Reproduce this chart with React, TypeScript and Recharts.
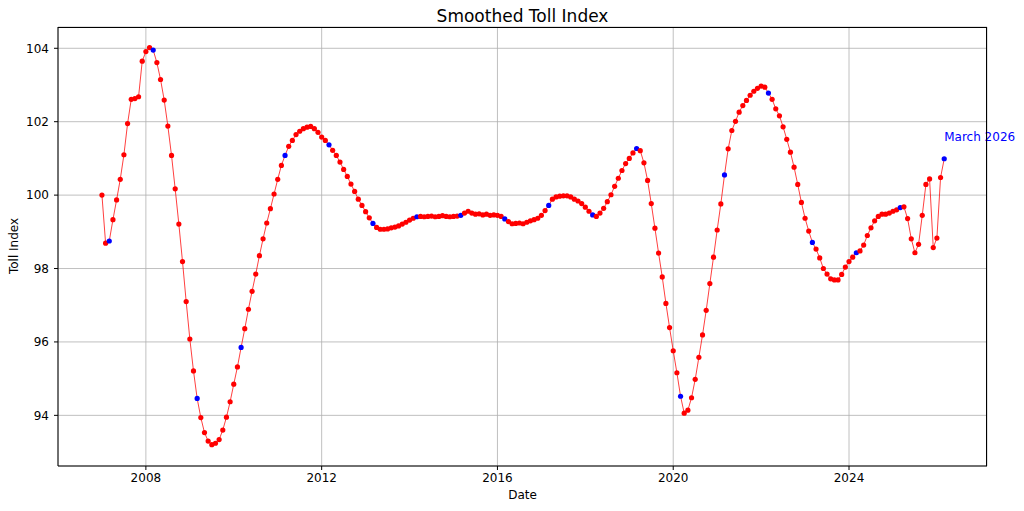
import { LineChart, Line, XAxis, YAxis, CartesianGrid } from "recharts";

// monthly smoothed toll index, Jan 2007 .. Mar 2026
const START_YEAR = 2007;
const TOLL_INDEX = [
  100.0, 98.69, 98.75, 99.33, 99.87, 100.43, 101.1, 101.95, 102.61, 102.63, 102.68, 103.65, // 2007
  103.91, 104.02, 103.95, 103.61, 103.15, 102.59, 101.88, 101.08, 100.17, 99.21, 98.19, 97.1, // 2008
  96.08, 95.21, 94.46, 93.94, 93.53, 93.3, 93.2, 93.24, 93.34, 93.6, 93.95, 94.37, // 2009
  94.85, 95.32, 95.85, 96.36, 96.89, 97.38, 97.85, 98.35, 98.81, 99.24, 99.63, 100.03, // 2010
  100.43, 100.81, 101.08, 101.33, 101.49, 101.65, 101.74, 101.81, 101.85, 101.87, 101.81, 101.71, // 2011
  101.58, 101.49, 101.37, 101.22, 101.08, 100.9, 100.7, 100.51, 100.3, 100.1, 99.89, 99.72, // 2012
  99.55, 99.38, 99.23, 99.12, 99.07, 99.07, 99.08, 99.11, 99.13, 99.16, 99.21, 99.26, // 2013
  99.32, 99.37, 99.41, 99.42, 99.41, 99.42, 99.43, 99.41, 99.42, 99.44, 99.42, 99.41, // 2014
  99.42, 99.43, 99.45, 99.51, 99.56, 99.51, 99.48, 99.49, 99.46, 99.48, 99.45, 99.46, // 2015
  99.45, 99.42, 99.35, 99.28, 99.22, 99.23, 99.24, 99.22, 99.26, 99.3, 99.33, 99.37, // 2016
  99.45, 99.58, 99.72, 99.89, 99.95, 99.97, 99.98, 99.98, 99.95, 99.89, 99.84, 99.77, // 2017
  99.67, 99.56, 99.46, 99.42, 99.51, 99.64, 99.82, 100.01, 100.24, 100.46, 100.67, 100.86, // 2018
  101.0, 101.15, 101.27, 101.21, 100.88, 100.4, 99.77, 99.1, 98.42, 97.77, 97.05, 96.39, // 2019
  95.76, 95.16, 94.52, 94.06, 94.14, 94.48, 94.98, 95.58, 96.19, 96.86, 97.59, 98.31, // 2020
  99.05, 99.76, 100.55, 101.26, 101.76, 102.01, 102.26, 102.44, 102.58, 102.72, 102.83, 102.91, // 2021
  102.97, 102.94, 102.78, 102.61, 102.35, 102.16, 101.86, 101.52, 101.17, 100.76, 100.29, 99.8, // 2022
  99.37, 99.02, 98.71, 98.53, 98.29, 98.0, 97.85, 97.72, 97.69, 97.69, 97.84, 98.04, // 2023
  98.19, 98.31, 98.43, 98.48, 98.64, 98.9, 99.11, 99.3, 99.42, 99.48, 99.48, 99.51, // 2024
  99.56, 99.6, 99.66, 99.68, 99.36, 98.81, 98.43, 98.66, 99.45, 100.29, 100.44, 98.57, // 2025
  98.83, 100.48, 100.99, // 2026
];

const X_TICKS = [2008, 2012, 2016, 2020, 2024];
const Y_TICKS = [94, 96, 98, 100, 102, 104];
const HIGHLIGHT_MONTH = 3; // March points drawn in blue
const LAST_LABEL = "March 2026";

const chartData = TOLL_INDEX.map((value, i) => ({
  t: START_YEAR + i / 12,
  month: (i % 12) + 1,
  value,
}));

const FONT = "DejaVu Sans, sans-serif";
const X_DOMAIN = [2006.08, 2027.14];
const Y_DOMAIN = [92.62, 104.58];

function MonthDot(props: any) {
  const { cx, cy, index, payload } = props;
  const isMarch = payload.month === HIGHLIGHT_MONTH;
  const isLast = index === chartData.length - 1;
  return (
    <g key={`dot-${index}`}>
      <circle cx={cx} cy={cy} r={2.6} fill={isMarch ? "#0000ff" : "#ff0000"} />
      {isLast && (
        <text x={cx} y={cy - 18} fill="#0000ff" fontSize={12} fontFamily={FONT}>
          {LAST_LABEL}
        </text>
      )}
    </g>
  );
}

export default function App() {
  const tickStyle = { fill: "#000", fontSize: 12, fontFamily: FONT };
  return (
    <div
      style={{
        position: "absolute",
        left: 0,
        top: 0,
        width: 1024,
        height: 511,
        background: "#fff",
        fontFamily: FONT,
      }}
    >
      <div
        style={{
          position: "absolute",
          left: 58,
          width: 929,
          top: 5,
          textAlign: "center",
          fontSize: 17,
          lineHeight: "22px",
        }}
      >
        Smoothed Toll Index
      </div>
      <div
        style={{
          position: "absolute",
          left: 58,
          width: 929,
          top: 487,
          textAlign: "center",
          fontSize: 12,
          lineHeight: "16px",
        }}
      >
        Date
      </div>
      <div
        style={{
          position: "absolute",
          left: 14,
          top: 246,
          transform: "translate(-50%, -50%) rotate(-90deg)",
          whiteSpace: "nowrap",
          fontSize: 12,
          lineHeight: "16px",
        }}
      >
        Toll Index
      </div>
      <LineChart
        width={1024}
        height={511}
        data={chartData}
        margin={{ top: 27, right: 37, bottom: 0, left: 0 }}
      >
        <CartesianGrid stroke="#b0b0b0" strokeWidth={0.8} />
        <XAxis
          dataKey="t"
          type="number"
          domain={X_DOMAIN}
          ticks={X_TICKS}
          allowDecimals={false}
          height={45}
          tickSize={4}
          tickMargin={3}
          tick={tickStyle}
          stroke="#000"
        />
        <YAxis
          type="number"
          domain={Y_DOMAIN}
          ticks={Y_TICKS}
          width={58}
          tickSize={4}
          tickMargin={5}
          tick={tickStyle}
          stroke="#000"
        />
        <Line
          dataKey="value"
          type="linear"
          stroke="#ff0000"
          strokeOpacity={0.75}
          strokeWidth={1}
          dot={MonthDot}
          activeDot={false}
          isAnimationActive={false}
        />
      </LineChart>
      {/* top and right spines of the axes frame */}
      <div
        style={{
          position: "absolute",
          left: 58,
          top: 27,
          width: 929,
          height: 439,
          boxSizing: "border-box",
          borderTop: "1px solid #000",
          borderRight: "1px solid #000",
          pointerEvents: "none",
        }}
      />
    </div>
  );
}
